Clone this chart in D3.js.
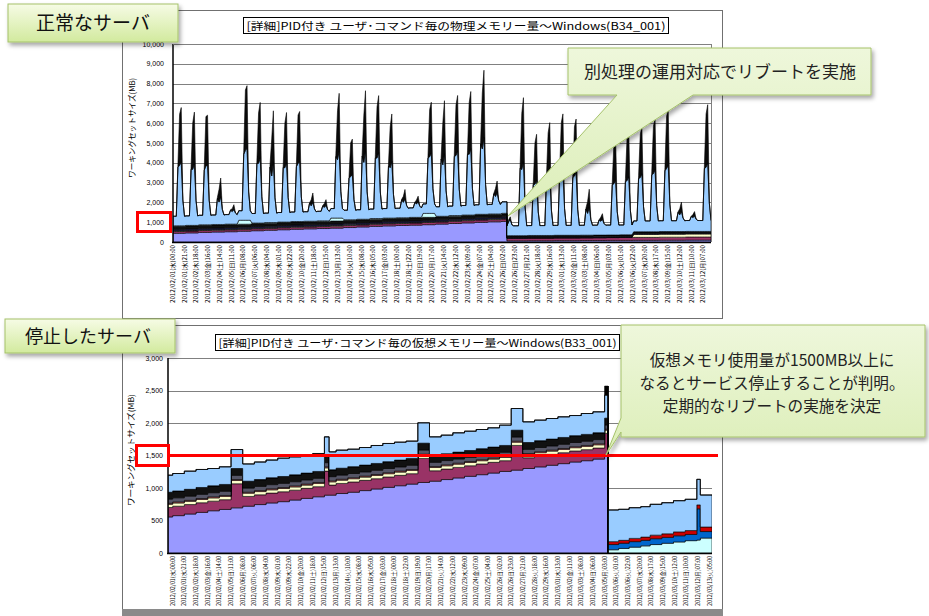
<!DOCTYPE html>
<html><head><meta charset="utf-8">
<script src="https://cdn.jsdelivr.net/npm/d3@7"></script>
<style>body{margin:0;background:#fff}svg{display:block}</style>
</head><body>
<svg id="c" width="929" height="616"></svg>
<script>
// ---------- tick labels ----------
const tickLabels = [
"2012/02/01(水)00:00","2012/02/01(水)21:00","2012/02/02(木)18:00","2012/02/03(金)16:00","2012/02/04(土)14:00",
"2012/02/05(日)11:00","2012/02/06(月)08:00","2012/02/07(火)06:00","2012/02/08(水)04:00","2012/02/09(木)01:00",
"2012/02/09(木)22:00","2012/02/10(金)20:00","2012/02/11(土)18:00","2012/02/12(日)15:00","2012/02/13(月)13:00",
"2012/02/14(火)10:00","2012/02/15(水)08:00","2012/02/16(木)05:00","2012/02/17(金)03:00","2012/02/18(土)00:00",
"2012/02/18(土)22:00","2012/02/19(日)19:00","2012/02/20(月)17:00","2012/02/21(火)14:00","2012/02/22(水)12:00",
"2012/02/23(木)09:00","2012/02/24(金)07:00","2012/02/25(土)04:00","2012/02/26(日)02:00","2012/02/26(日)23:00",
"2012/02/27(月)21:00","2012/02/28(火)18:00","2012/02/29(水)16:00","2012/03/01(木)13:00","2012/03/02(金)11:00",
"2012/03/03(土)08:00","2012/03/04(日)06:00","2012/03/05(月)03:00","2012/03/06(火)01:00","2012/03/06(火)22:00",
"2012/03/07(水)20:00","2012/03/08(木)17:00","2012/03/09(金)15:00","2012/03/10(土)12:00","2012/03/11(日)10:00",
"2012/03/12(月)07:00","2012/03/13(火)05:00"];
const topTickHours = [0,21,42,64,86,107,128,150,172,193,214,236,258,279,301,322,344,365,387,408,430,451,473,494,516,
537,559,580,602,623,645,666,688,709,731,752,774,795,817,838,860,881,903,924,946,967];
const topYTicks = [0,1000,2000,3000,4000,5000,6000,7000,8000,9000,10000];
const bottomYTicks = [0,500,1000,1500,2000,2500,3000];

// ---------- top chart (physical memory, B34_001) ----------
// base layers per segment: days 0..24, day25 before reboot, day25 after reboot, days 26..40
const topPurple = [440,460,485,505,520,545,570,595,620,645,665,680,700,730,760,790,815,835,850,875,905,935,965,995,1020,1040,
 60,60,65,65,70,70,75,75,80,80,85,85,90,90,95,95];
const topMagenta = [90,90,95,90,95,95,100,95,100,100,95,100,100,105,100,105,105,100,105,110,105,110,110,115,110,120,
 130,130,135,135,140,140,140,145,145,150,150,150,155,155,160,160];
const topYellow = [30,30,30,30,30,30,30,30,30,30,30,30,30,30,30,30,30,30,30,30,30,30,30,30,30,30,
 0,0,0,0,0,0,0,0,0,0,150,150,150,150,150,150];
const topNavy = [80,80,80,80,80,80,80,80,80,80,80,80,80,80,80,80,80,80,80,80,80,80,80,80,80,80,
 40,40,40,40,40,40,40,40,40,40,40,40,40,40,40,40];
const topBlackBand = [150,150,150,150,150,150,150,150,150,150,150,150,150,150,150,150,150,150,150,150,150,150,150,150,150,150,
 90,90,90,90,90,90,90,90,90,90,90,90,90,90,90,90];
const topCyan = [30,30,30,30,30,200,30,30,30,30,30,30,150,30,30,30,30,30,30,200,30,30,30,30,30,30,
 0,0,0,0,0,0,0,0,0,0,0,0,0,0,0,0];
// 3-hourly samples (00,03,...,21) per segment
const topLightBlue = [
[480,480,480,2951,3055,3225,1304,480],[480,480,480,2838,2830,3100,1266,480],[480,480,480,2755,2973,3008,1238,480],
[480,480,480,1319,1130,1413,760,480],[480,480,480,705,630,730,555,480],[480,480,480,3322,3528,3638,1427,480],
[480,480,480,3005,3015,3285,1322,480],[480,480,480,2804,2353,3063,1255,480],[480,480,480,2753,2740,3005,1238,480],
[480,480,480,2764,2928,3018,1241,480],[480,480,480,905,780,953,622,480],[480,480,480,746,680,775,569,480],
[480,480,480,3099,2950,3390,1353,480],[480,480,480,2096,2185,2275,1019,480],[480,480,480,3185,2870,3485,1382,480],
[480,480,480,3059,3055,3345,1340,480],[480,480,480,2629,2543,2868,1196,480],[480,480,480,905,780,953,622,480],
[480,480,480,746,680,775,569,480],[480,480,480,2791,2863,3048,1250,480],[480,480,480,2890,2598,3158,1283,480],
[480,480,480,2993,3033,3273,1318,480],[480,480,480,3070,3068,3358,1343,480],[480,480,480,3538,3303,3878,1499,480],
[480,480,480,1011,880,1070,657,480],[580,580,580,580],[500,700,800,550,500],
[500,500,500,3412,3340,3735,1471,500],[500,500,500,2575,2590,2805,1192,500],[500,500,500,2840,2840,3100,1280,500],
[500,500,500,3034,3090,3315,1345,500],[500,500,500,2917,2990,3185,1306,500],[500,500,500,1319,1100,1410,773,500],
[500,500,500,761,700,790,587,500],[500,500,500,2539,2590,2765,1180,500],[500,500,500,2692,2740,2935,1231,500],
[550,550,550,2688,2740,2925,1263,550],[550,550,550,2877,2940,3135,1326,550],[550,550,550,3070,3190,3350,1390,550],
[550,550,550,973,850,1020,691,550],[550,550,550,753,700,775,618,550],[550,550,550,3183,3240,3475,1428,550]];
const topBlackPeak = [
[0,0,0,165,2575,2745,0,0],[0,0,0,157,2350,2620,0,0],[0,0,0,152,2493,2528,0,0],
[0,0,0,56,650,933,0,0],[0,0,0,15,150,250,0,0],[0,0,0,189,3048,3158,0,0],
[0,0,0,168,2535,2805,0,0],[0,0,0,155,1873,2583,0,0],[0,0,0,152,2260,2525,0,0],
[0,0,0,152,2448,2538,0,0],[0,0,0,28,300,473,0,0],[0,0,0,18,200,295,0,0],
[0,0,0,175,2470,2910,0,0],[0,0,0,108,1705,1795,0,0],[0,0,0,180,2390,3005,0,0],
[0,0,0,172,2575,2865,0,0],[0,0,0,143,2063,2388,0,0],[0,0,0,28,300,473,0,0],
[0,0,0,18,200,295,0,0],[0,0,0,154,2383,2568,0,0],[0,0,0,161,2118,2678,0,0],
[0,0,0,168,2553,2793,0,0],[0,0,0,173,2588,2878,0,0],[0,0,0,204,2823,3398,0,0],
[0,0,0,35,400,590,0,0],[0,0,0,0],[0,100,150,0,0],
[0,0,0,194,2840,3235,0,0],[0,0,0,138,2090,2305,0,0],[0,0,0,156,2340,2600,0,0],
[0,0,0,169,2590,2815,0,0],[0,0,0,161,2490,2685,0,0],[0,0,0,55,600,910,0,0],
[0,0,0,17,200,290,0,0],[0,0,0,136,2090,2265,0,0],[0,0,0,146,2240,2435,0,0],
[0,0,0,143,2190,2375,0,0],[0,0,0,155,2390,2585,0,0],[0,0,0,168,2640,2800,0,0],
[0,0,0,28,300,470,0,0],[0,0,0,14,150,225,0,0],[0,0,0,176,2690,2925,0,0]];

// ---------- bottom chart (virtual memory, B33_001) ----------
const bottomX = [-0.4,0,1,2,3,4,5,6,7,8,9,10,11,12,13,13.4,14,15,16,17,18,19,20,21,22,23,24,25,26,27,28,29,30,31,32,33,34,35,36,37,
 37.3,38.2,39.1,40.1,40.9,41.9,42.9,43.9,44.9,45.2];
const bottomEnd = 46.2;
const bPurple = [555,575,600,625,650,670,695,720,745,770,790,815,840,865,890,890,915,935,960,985,1010,1035,1060,1085,1105,1130,1155,1180,1205,1230,1255,1275,1300,1325,1350,1375,1400,1420,1445,1490,
 0,0,0,0,0,0,0,0,0,0];
const bMagenta = [145,145,145,148,148,150,370,150,150,152,152,152,155,155,370,155,155,158,158,158,160,160,160,370,160,162,162,162,165,165,165,380,165,168,168,168,170,170,170,350,
 0,0,0,0,0,0,0,0,0,0];
const bYellow = [50,50,50,50,50,50,50,50,50,50,50,50,50,50,50,50,50,50,50,50,50,50,50,50,50,50,50,50,50,50,50,50,50,50,50,50,50,50,50,50,
 0,0,0,0,0,0,0,0,0,0];
const bSalmon = [15,15,15,15,15,15,15,15,15,15,15,15,15,15,15,15,15,15,15,15,15,15,15,15,15,15,15,15,15,15,15,15,15,15,15,15,15,15,15,15,
 0,0,0,0,0,0,0,0,0,0];
const bGray = [65,65,65,65,65,65,65,65,65,65,65,65,65,65,65,65,65,65,65,65,65,65,65,65,65,65,65,65,65,65,65,65,65,65,65,65,65,65,65,65,
 0,0,0,0,0,0,0,0,0,0];
const bBlack = [105,105,105,105,105,105,105,105,105,105,105,105,105,105,105,105,105,105,105,105,105,105,105,105,105,105,105,105,105,105,105,105,105,105,105,105,105,105,105,105,
 0,0,0,0,0,0,0,0,0,0];
const bCyan = [0,0,0,0,0,0,0,0,0,0,0,0,0,0,0,0,0,0,0,0,0,0,0,0,0,0,0,0,0,0,0,0,0,0,0,0,0,0,0,0,
 50,70,90,110,130,150,170,190,200,230];
const bBlue = [0,0,0,0,0,0,0,0,0,0,0,0,0,0,0,0,0,0,0,0,0,0,0,0,0,0,0,0,0,0,0,0,0,0,0,0,0,0,0,0,
 80,80,85,85,90,90,95,95,480,100];
const bRed = [0,0,0,0,0,0,0,0,0,0,0,0,0,0,0,0,0,0,0,0,0,0,0,0,0,0,0,0,0,0,0,0,0,0,0,0,0,0,0,0,
 45,45,50,50,55,55,60,60,60,70];
const bLightBlue = [262,268,279,277,267,271,292,265,270,273,282,277,275,276,292,276,277,269,270,276,280,275,266,313,287,286,297,297,295,296,312,333,318,316,316,317,310,321,322,353,
 487,477,472,468,474,479,480,481,393,492];
const bPeak = [0,0,0,0,0,0,0,0,0,0,0,0,0,0,0,0,0,0,0,0,0,0,0,0,0,0,0,0,0,0,0,0,0,0,0,0,0,0,0,140,
 0,0,0,0,0,0,0,0,0,0];

const svg = d3.select('#c');
const defs = svg.append('defs');
const gl = defs.append('linearGradient').attr('id','lbl').attr('x1',0).attr('y1',0).attr('x2',0).attr('y2',1);
gl.append('stop').attr('offset','0%').attr('stop-color','#F6FBE5');
gl.append('stop').attr('offset','100%').attr('stop-color','#D2EA9E');
const gc = defs.append('linearGradient').attr('id','cal').attr('x1',0).attr('y1',0).attr('x2',0).attr('y2',1);
gc.append('stop').attr('offset','0%').attr('stop-color','#EEF7DB');
gc.append('stop').attr('offset','100%').attr('stop-color','#DCEEB8');
const sh = defs.append('filter').attr('id','sh').attr('x','-10%').attr('y','-20%').attr('width','130%').attr('height','150%');
sh.append('feDropShadow').attr('dx',2).attr('dy',3).attr('stdDeviation',2).attr('flood-color','#000').attr('flood-opacity',0.35);
defs.append('clipPath').attr('id','clipT').append('rect').attr('x',173).attr('y',40).attr('width',538).attr('height',202);
defs.append('clipPath').attr('id','clipB').append('rect').attr('x',168).attr('y',355).attr('width',544).attr('height',198);

const FJ = "'Noto Sans CJK JP','Noto Sans',sans-serif";
const FS = "'Liberation Sans',Arial,sans-serif";

// chart frames
svg.append('rect').attr('x',122.5).attr('y',10.5).attr('width',600).attr('height',308).attr('fill','#fff').attr('stroke','#707070');
svg.append('rect').attr('x',122.5).attr('y',325.5).attr('width',600).attr('height',285).attr('fill','#fff').attr('stroke','#707070');
svg.append('rect').attr('x',122).attr('y',609).attr('width',601).attr('height',7).attr('fill','#8a8a8a');

// ===== TOP =====
const xT = d3.scaleLinear().domain([0,981]).range([173,711]);
const yT = d3.scaleLinear().domain([0,10000]).range([242,44]);
const topG = svg.append('g');
topG.selectAll('line.grid').data(topYTicks.slice(1)).join('line')
 .attr('x1',173).attr('x2',711).attr('y1',d=>Math.round(yT(d))+0.5).attr('y2',d=>Math.round(yT(d))+0.5)
 .attr('stroke','#808080').attr('stroke-width',1.2);
topG.append('line').attr('x1',711.5).attr('x2',711.5).attr('y1',44).attr('y2',242).attr('stroke','#808080');

const topRows = [];
topLightBlue.forEach((row,s)=>{
 const start = s<25 ? s*24 : s===25 ? 600 : s===26 ? 609 : (s-1)*24;
 row.forEach((v,j)=>topRows.push({h:start+3*j, purple:topPurple[s], magenta:topMagenta[s], yellow:topYellow[s],
  navy:topNavy[s], black:topBlackBand[s], cyan:topCyan[s], lightBlue:v, peak:topBlackPeak[s][j]}));
});
const topKeys = ['purple','magenta','yellow','navy','black','cyan','lightBlue','peak'];
const topCol = {purple:'#9999FF',magenta:'#993366',yellow:'#FFFFCC',navy:'#22224A',black:'#101010',cyan:'#CCFFFF',lightBlue:'#99CCFF',peak:'#0A0A0A'};
const topStack = d3.stack().keys(topKeys)(topRows);
const areaT = d3.area().x(d=>xT(d.data.h)).y0(d=>yT(d[0])).y1(d=>yT(d[1]));
topG.append('g').attr('clip-path','url(#clipT)').selectAll('path').data(topStack).join('path')
 .attr('d',areaT).attr('fill',d=>topCol[d.key]).attr('stroke','#000').attr('stroke-width',0.6).attr('stroke-linejoin','round');

topG.append('line').attr('x1',173).attr('x2',173).attr('y1',44).attr('y2',243).attr('stroke','#000').attr('stroke-width',1.5);
topG.append('line').attr('x1',172).attr('x2',711).attr('y1',242.5).attr('y2',242.5).attr('stroke','#000').attr('stroke-width',1.5);
topG.append('line').attr('x1',173).attr('x2',711).attr('y1',44.5).attr('y2',44.5).attr('stroke','#808080');

topG.selectAll('text.yt').data(topYTicks).join('text').attr('x',164).attr('y',d=>yT(d)+2.5)
 .attr('text-anchor','end').attr('font-family',FS).attr('font-size',7).text(d=>d3.format(',')(d));
topG.selectAll('text.xt').data(topTickHours).join('text')
 .attr('transform',(d)=>`translate(${xT(d)+2},245) rotate(-90)`).attr('text-anchor','end')
 .attr('font-family',FJ).attr('font-size',6).attr('textLength',58).attr('lengthAdjust','spacingAndGlyphs')
 .text((d,i)=>tickLabels[i]);
topG.append('text').attr('transform','translate(135,128) rotate(-90)').attr('text-anchor','middle')
 .attr('font-family',FJ).attr('font-size',8).attr('textLength',100).attr('lengthAdjust','spacingAndGlyphs').text('ワーキングセットサイズ(MB)');
topG.append('rect').attr('x',243.5).attr('y',17.5).attr('width',425).attr('height',16).attr('fill','#fff').attr('stroke','#000');
topG.append('text').attr('x',456).attr('y',29.5).attr('text-anchor','middle').attr('font-family',FJ).attr('font-size',10.5)
 .attr('textLength',419).attr('lengthAdjust','spacingAndGlyphs').text('[詳細]PID付き ユーザ･コマンド毎の物理メモリー量～Windows(B34_001)');

// ===== BOTTOM =====
const xB = d3.scaleLinear().domain([-0.4,46.2]).range([168,712]);
const yB = d3.scaleLinear().domain([0,3000]).range([553,358]);
const botG = svg.append('g');
botG.selectAll('line.grid').data(bottomYTicks.slice(1)).join('line')
 .attr('x1',168).attr('x2',712).attr('y1',d=>Math.round(yB(d))+0.5).attr('y2',d=>Math.round(yB(d))+0.5)
 .attr('stroke','#808080').attr('stroke-width',1.2);
const botRows = bottomX.map((x,i)=>({x, purple:bPurple[i], magenta:bMagenta[i], yellow:bYellow[i], salmon:bSalmon[i],
 gray:bGray[i], black:bBlack[i], cyan:bCyan[i], blue:bBlue[i], red:bRed[i], lightBlue:bLightBlue[i], peak:bPeak[i]}));
botRows.push(Object.assign({}, botRows[botRows.length-1], {x:bottomEnd}));
const botKeys = ['purple','magenta','yellow','salmon','gray','black','cyan','blue','red','lightBlue','peak'];
const botCol = {purple:'#9999FF',magenta:'#993366',yellow:'#FFFFCC',salmon:'#FF8080',gray:'#555566',black:'#111111',
 cyan:'#CCFFFF',blue:'#0066CC',red:'#CC0000',lightBlue:'#99CCFF',peak:'#000000'};
const botStack = d3.stack().keys(botKeys)(botRows);
const areaB = d3.area().curve(d3.curveStepAfter).x(d=>xB(d.data.x)).y0(d=>yB(d[0])).y1(d=>yB(d[1]));
botG.append('g').attr('clip-path','url(#clipB)').selectAll('path').data(botStack).join('path')
 .attr('d',areaB).attr('fill',d=>botCol[d.key]).attr('stroke','#000').attr('stroke-width',0.6);
botG.append('line').attr('x1',168).attr('x2',168).attr('y1',358).attr('y2',554).attr('stroke','#000').attr('stroke-width',1.5);
botG.append('line').attr('x1',167).attr('x2',712).attr('y1',553.5).attr('y2',553.5).attr('stroke','#000').attr('stroke-width',1.5);
botG.append('line').attr('x1',xB(37.3)).attr('x2',xB(37.3)).attr('y1',yB(2570)).attr('y2',553).attr('stroke','#000').attr('stroke-width',1.5);
botG.selectAll('text.yt').data(bottomYTicks).join('text').attr('x',163).attr('y',d=>yB(d)+2.5)
 .attr('text-anchor','end').attr('font-family',FS).attr('font-size',7).text(d=>d3.format(',')(d));
botG.selectAll('text.xt').data(tickLabels).join('text')
 .attr('transform',(d,i)=>`translate(${xB(i)+2},556) rotate(-90)`).attr('text-anchor','end')
 .attr('font-family',FJ).attr('font-size',6).attr('textLength',50).attr('lengthAdjust','spacingAndGlyphs').text(d=>d);
botG.append('text').attr('transform','translate(134,450) rotate(-90)').attr('text-anchor','middle')
 .attr('font-family',FJ).attr('font-size',8).attr('textLength',112).attr('lengthAdjust','spacingAndGlyphs').text('ワーキングセットサイズ(MB)');
botG.append('rect').attr('x',215.5).attr('y',334.5).attr('width',404).attr('height',16).attr('fill','#fff').attr('stroke','#000');
botG.append('text').attr('x',417.5).attr('y',346.5).attr('text-anchor','middle').attr('font-family',FJ).attr('font-size',10.5)
 .attr('textLength',398).attr('lengthAdjust','spacingAndGlyphs').text('[詳細]PID付き ユーザ･コマンド毎の仮想メモリー量～Windows(B33_001)');

// ===== annotations =====
const ann = svg.append('g');
ann.append('rect').attr('x',137.5).attr('y',212.5).attr('width',33).attr('height',19).attr('fill','none').attr('stroke','#FF0000').attr('stroke-width',3);
ann.append('rect').attr('x',136.5).attr('y',445.5).attr('width',32).attr('height',20).attr('fill','none').attr('stroke','#FF0000').attr('stroke-width',3);
ann.append('line').attr('x1',168).attr('x2',718).attr('y1',yB(1500)).attr('y2',yB(1500)).attr('stroke','#FF0000').attr('stroke-width',3);

// label boxes
ann.append('rect').attr('x',8).attr('y',4).attr('width',170).attr('height',38).attr('fill','url(#lbl)').attr('stroke','#A5C26A').attr('filter','url(#sh)');
ann.append('text').attr('x',93).attr('y',30).attr('text-anchor','middle').attr('font-family',FJ).attr('font-size',19).attr('fill','#111').text('正常なサーバ');
ann.append('rect').attr('x',5).attr('y',319).attr('width',170).attr('height',34).attr('fill','url(#lbl)').attr('stroke','#A5C26A').attr('filter','url(#sh)');
ann.append('text').attr('x',88).attr('y',343).attr('text-anchor','middle').attr('font-family',FJ).attr('font-size',18).attr('fill','#111').text('停止したサーバ');

// callouts
ann.append('path').attr('d','M568,48 H871 V95 H693 L508,216 L617,95 H568 Z').attr('fill','url(#cal)').attr('stroke','#A5C26A').attr('filter','url(#sh)');
ann.append('text').attr('x',720).attr('y',78).attr('text-anchor','middle').attr('font-family',FJ).attr('font-size',17).attr('fill','#222').text('別処理の運用対応でリブートを実施');
ann.append('path').attr('d','M621,325 H925 V437 H621 V432 L606,455 L621,418 Z').attr('fill','url(#cal)').attr('stroke','#A5C26A').attr('filter','url(#sh)');
const calLines = ['仮想メモリ使用量が1500MB以上に','なるとサービス停止することが判明。','定期的なリブートの実施を決定'];
ann.selectAll('text.cl').data(calLines).join('text').attr('x',772).attr('y',(d,i)=>366+i*23).attr('text-anchor','middle')
 .attr('font-family',FJ).attr('font-size',15.6).attr('fill','#222').text(d=>d);
</script>
</body></html>
